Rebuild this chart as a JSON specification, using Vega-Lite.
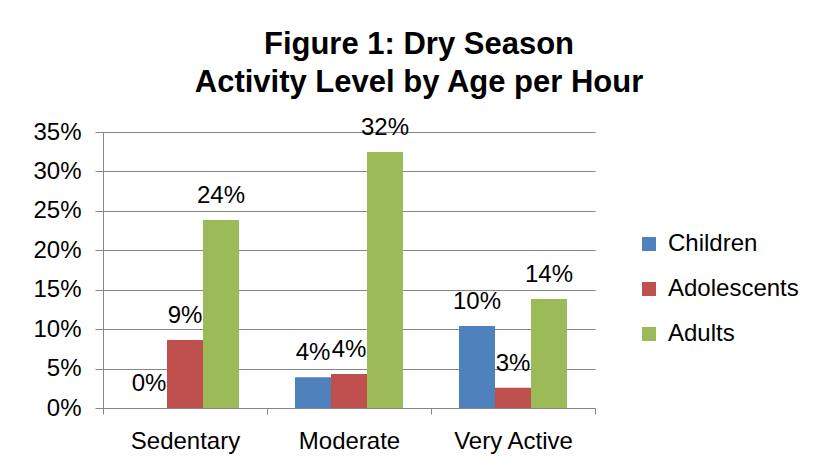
{
  "$schema": "https://vega.github.io/schema/vega-lite/v6.json",
  "autosize": {"type": "none"},
  "width": 492,
  "height": 276,
  "padding": {"left": 103, "top": 132, "right": 222, "bottom": 62},
  "background": "white",
  "config": {
    "font": "Liberation Sans",
    "view": {"stroke": null}
  },
  "title": {
    "text": ["Figure 1: Dry Season", "Activity Level by Age per Hour"],
    "fontSize": 31,
    "fontWeight": "bold",
    "font": "Liberation Sans",
    "color": "black",
    "lineHeight": 38,
    "anchor": "middle",
    "dx": 70,
    "offset": 17
  },
  "data": {
    "values": [
      {"Activity": "Sedentary", "Group": "Children", "value": 0.0},
      {"Activity": "Sedentary", "Group": "Adolescents", "value": 0.0862},
      {"Activity": "Sedentary", "Group": "Adults", "value": 0.2384},
      {"Activity": "Moderate", "Group": "Children", "value": 0.0389},
      {"Activity": "Moderate", "Group": "Adolescents", "value": 0.0431},
      {"Activity": "Moderate", "Group": "Adults", "value": 0.3245},
      {"Activity": "Very Active", "Group": "Children", "value": 0.104},
      {"Activity": "Very Active", "Group": "Adolescents", "value": 0.0258},
      {"Activity": "Very Active", "Group": "Adults", "value": 0.1382}
    ]
  },
  "encoding": {
    "x": {
      "field": "Activity",
      "type": "nominal",
      "sort": ["Sedentary", "Moderate", "Very Active"],
      "scale": {"paddingInner": 0, "paddingOuter": 0},
      "axis": {
        "title": null,
        "labelAngle": 0,
        "labelFontSize": 24,
        "labelColor": "black",
        "labelPadding": 15,
        "tickBand": "extent",
        "tickSize": 6,
        "tickColor": "#868686",
        "domainColor": "#868686",
        "grid": false
      }
    },
    "xOffset": {
      "field": "Group",
      "type": "nominal",
      "sort": ["Children", "Adolescents", "Adults"],
      "scale": {"paddingInner": 0, "paddingOuter": 0.778}
    },
    "y": {
      "field": "value",
      "type": "quantitative",
      "scale": {"domain": [0, 0.35], "nice": false},
      "axis": {
        "title": null,
        "values": [0, 0.05, 0.1, 0.15, 0.2, 0.25, 0.3, 0.35],
        "format": ".0%",
        "labelFontSize": 24,
        "labelColor": "black",
        "labelPadding": 14,
        "tickSize": 8,
        "tickColor": "#868686",
        "domainColor": "#868686",
        "gridColor": "#868686",
        "grid": true
      }
    }
  },
  "layer": [
    {
      "mark": {"type": "bar"},
      "encoding": {
        "color": {
          "field": "Group",
          "type": "nominal",
          "sort": ["Children", "Adolescents", "Adults"],
          "scale": {"domain": ["Children", "Adolescents", "Adults"], "range": ["#4F81BD", "#C0504D", "#9BBB59"]},
          "legend": {
            "title": null,
            "orient": "none",
            "legendX": 534,
            "legendY": 100,
            "symbolType": "square",
            "symbolSize": 196,
            "symbolStrokeWidth": 0,
            "labelFontSize": 24,
            "labelColor": "black",
            "labelOffset": 7,
            "rowPadding": 21
          }
        }
      }
    },
    {
      "mark": {"type": "text", "baseline": "alphabetic", "dy": -17, "fontSize": 24, "color": "black"},
      "encoding": {
        "text": {"field": "value", "type": "quantitative", "format": ".0%"}
      }
    }
  ]
}
